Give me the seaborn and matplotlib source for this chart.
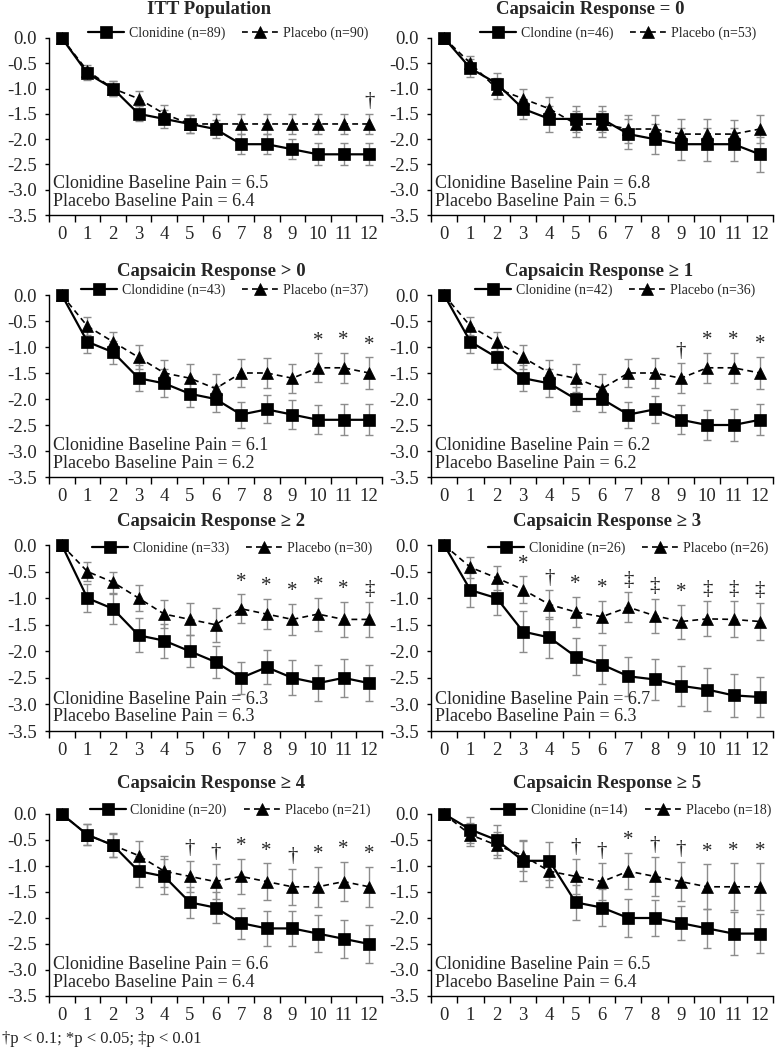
import matplotlib
matplotlib.use("Agg")
import matplotlib.pyplot as plt
import numpy as np
import seaborn as sns

# ---------------- data ----------------
weeks = list(range(13))
week_labels = [str(w) for w in weeks]
y_ticks = [0.0, -0.5, -1.0, -1.5, -2.0, -2.5, -3.0, -3.5]

titles = ["ITT Population", "Capsaicin Response = 0",
          "Capsaicin Response > 0", "Capsaicin Response \u2265 1",
          "Capsaicin Response \u2265 2", "Capsaicin Response \u2265 3",
          "Capsaicin Response \u2265 4", "Capsaicin Response \u2265 5"]

clon_labels = ["Clonidine (n=89)", "Clondine (n=46)", "Clondidine (n=43)", "Clonidine (n=42)",
               "Clonidine (n=33)", "Clonidine (n=26)", "Clonidine (n=20)", "Clonidine (n=14)"]
plac_labels = ["Placebo (n=90)", "Placebo (n=53)", "Placebo (n=37)", "Placebo (n=36)",
               "Placebo (n=30)", "Placebo (n=26)", "Placebo (n=21)", "Placebo (n=18)"]

clon_baseline = [6.5, 6.8, 6.1, 6.2, 6.3, 6.7, 6.6, 6.5]
plac_baseline = [6.4, 6.5, 6.2, 6.2, 6.3, 6.3, 6.4, 6.4]

# mean change from baseline, weeks 0..12
clon_itt = [0, -0.7, -1.0, -1.5, -1.6, -1.7, -1.8, -2.1, -2.1, -2.2, -2.3, -2.3, -2.3]
plac_itt = [0, -0.65, -1.0, -1.2, -1.5, -1.7, -1.7, -1.7, -1.7, -1.7, -1.7, -1.7, -1.7]
clon_r0 = [0, -0.6, -0.9, -1.4, -1.6, -1.6, -1.6, -1.9, -2.0, -2.1, -2.1, -2.1, -2.3]
plac_r0 = [0, -0.5, -1.0, -1.2, -1.4, -1.7, -1.7, -1.8, -1.8, -1.9, -1.9, -1.9, -1.8]
clon_gt0 = [0, -0.9, -1.1, -1.6, -1.7, -1.9, -2.0, -2.3, -2.2, -2.3, -2.4, -2.4, -2.4]
plac_gt0 = [0, -0.6, -0.9, -1.2, -1.5, -1.6, -1.8, -1.5, -1.5, -1.6, -1.4, -1.4, -1.5]
clon_ge1 = [0, -0.9, -1.2, -1.6, -1.7, -2.0, -2.0, -2.3, -2.2, -2.4, -2.5, -2.5, -2.4]
plac_ge1 = [0, -0.6, -0.9, -1.2, -1.5, -1.6, -1.8, -1.5, -1.5, -1.6, -1.4, -1.4, -1.5]
clon_ge2 = [0, -1.0, -1.2, -1.7, -1.8, -2.0, -2.2, -2.5, -2.3, -2.5, -2.6, -2.5, -2.6]
plac_ge2 = [0, -0.5, -0.7, -1.0, -1.3, -1.4, -1.5, -1.2, -1.3, -1.4, -1.3, -1.4, -1.4]
clon_ge3 = [0, -0.85, -1.0, -1.63, -1.74, -2.1, -2.25, -2.47, -2.53, -2.65, -2.72, -2.83, -2.86]
plac_ge3 = [0, -0.42, -0.62, -0.84, -1.12, -1.26, -1.35, -1.17, -1.33, -1.44, -1.39, -1.4, -1.44]
clon_ge4 = [0, -0.4, -0.6, -1.1, -1.2, -1.7, -1.8, -2.1, -2.2, -2.2, -2.3, -2.4, -2.5]
plac_ge4 = [0, -0.4, -0.6, -0.8, -1.1, -1.2, -1.3, -1.2, -1.3, -1.4, -1.4, -1.3, -1.4]
clon_ge5 = [0, -0.3, -0.5, -0.9, -0.9, -1.7, -1.8, -2.0, -2.0, -2.1, -2.2, -2.3, -2.3]
plac_ge5 = [0, -0.4, -0.6, -0.8, -1.1, -1.2, -1.3, -1.1, -1.2, -1.3, -1.4, -1.4, -1.4]

# error bar half-widths, weeks 1..12
clon_err_itt = [0.13, 0.15, 0.15, 0.17, 0.17, 0.17, 0.2, 0.2, 0.2, 0.22, 0.22, 0.22]
plac_err_itt = [0.12, 0.15, 0.15, 0.17, 0.18, 0.2, 0.2, 0.2, 0.2, 0.2, 0.2, 0.2]
clon_err_r0 = [0.18, 0.2, 0.2, 0.25, 0.25, 0.25, 0.3, 0.3, 0.32, 0.33, 0.33, 0.35]
plac_err_r0 = [0.15, 0.2, 0.2, 0.23, 0.25, 0.25, 0.27, 0.28, 0.3, 0.3, 0.28, 0.28]
clon_err_gt0 = [0.22, 0.22, 0.25, 0.27, 0.25, 0.25, 0.25, 0.27, 0.28, 0.28, 0.3, 0.3]
plac_err_gt0 = [0.17, 0.18, 0.23, 0.25, 0.27, 0.28, 0.27, 0.28, 0.28, 0.28, 0.29, 0.3]
clon_err_ge1 = [0.22, 0.22, 0.25, 0.27, 0.23, 0.25, 0.25, 0.26, 0.28, 0.29, 0.3, 0.3]
plac_err_ge1 = [0.17, 0.18, 0.23, 0.25, 0.27, 0.28, 0.27, 0.29, 0.29, 0.29, 0.29, 0.31]
clon_err_ge2 = [0.27, 0.28, 0.32, 0.32, 0.3, 0.3, 0.3, 0.32, 0.33, 0.34, 0.36, 0.34]
plac_err_ge2 = [0.18, 0.2, 0.24, 0.27, 0.3, 0.32, 0.27, 0.29, 0.29, 0.31, 0.33, 0.33]
clon_err_ge3 = [0.32, 0.32, 0.38, 0.38, 0.35, 0.37, 0.37, 0.38, 0.38, 0.4, 0.41, 0.38]
plac_err_ge3 = [0.2, 0.22, 0.25, 0.27, 0.28, 0.3, 0.28, 0.32, 0.32, 0.33, 0.34, 0.35]
clon_err_ge4 = [0.2, 0.23, 0.3, 0.33, 0.3, 0.3, 0.3, 0.33, 0.33, 0.35, 0.36, 0.36]
plac_err_ge4 = [0.2, 0.22, 0.28, 0.3, 0.3, 0.33, 0.34, 0.35, 0.35, 0.38, 0.38, 0.39]
clon_err_ge5 = [0.25, 0.28, 0.38, 0.37, 0.33, 0.35, 0.36, 0.34, 0.33, 0.37, 0.42, 0.38]
plac_err_ge5 = [0.22, 0.25, 0.3, 0.3, 0.33, 0.35, 0.35, 0.37, 0.38, 0.43, 0.45, 0.45]

# significance markers, weeks 1..12
sig_itt = ["", "", "", "", "", "", "", "", "", "", "", "\u2020"]
sig_r0 = [""] * 12
sig_gt0 = ["", "", "", "", "", "", "", "", "", "*", "*", "*"]
sig_ge1 = ["", "", "", "", "", "", "", "", "\u2020", "*", "*", "*"]
sig_ge2 = ["", "", "", "", "", "", "*", "*", "*", "*", "*", "\u2021"]
sig_ge3 = ["", "", "*", "\u2020", "*", "*", "\u2021", "\u2021", "*", "\u2021", "\u2021", "\u2021"]
sig_ge4 = ["", "", "", "", "\u2020", "\u2020", "*", "*", "\u2020", "*", "*", "*"]
sig_ge5 = ["", "", "", "", "\u2020", "\u2020", "*", "\u2020", "\u2020", "*", "*", "*"]

footnote = "\u2020p < 0.1; *p < 0.05; \u2021p < 0.01"

clon_all = [clon_itt, clon_r0, clon_gt0, clon_ge1, clon_ge2, clon_ge3, clon_ge4, clon_ge5]
plac_all = [plac_itt, plac_r0, plac_gt0, plac_ge1, plac_ge2, plac_ge3, plac_ge4, plac_ge5]
clon_errs = [clon_err_itt, clon_err_r0, clon_err_gt0, clon_err_ge1, clon_err_ge2, clon_err_ge3, clon_err_ge4, clon_err_ge5]
plac_errs = [plac_err_itt, plac_err_r0, plac_err_gt0, plac_err_ge1, plac_err_ge2, plac_err_ge3, plac_err_ge4, plac_err_ge5]
sigs = [sig_itt, sig_r0, sig_gt0, sig_ge1, sig_ge2, sig_ge3, sig_ge4, sig_ge5]

# ---------------- style ----------------
sns.set_style("ticks")
plt.rcParams["font.family"] = ["Liberation Serif", "DejaVu Serif"]
plt.rcParams["axes.unicode_minus"] = False

W, H = 776, 1048
fig = plt.figure(figsize=(W / 100, H / 100), dpi=100)

cols = [(49, 382), (431, 773)]
rows = [(38, 215), (295, 477), (545, 731), (814, 996)]
title_y = [10, 271, 522, 783]
title_x = [209, 590, 211, 599, 211, 607, 211, 607]
legend_y = [33, 290, 548, 810]
legend_right = [368, 756, 368, 755, 372, 768, 370, 771]

for i in range(8):
    r, c = divmod(i, 2)
    x0, x1 = cols[c]
    y0, y1 = rows[r]
    ax = fig.add_axes([x0 / W, 1 - y1 / H, (x1 - x0) / W, (y1 - y0) / H])

    ax.errorbar(weeks[1:], plac_all[i][1:], yerr=plac_errs[i], fmt="none",
                ecolor="#8c8c8c", elinewidth=1, capsize=3, capthick=1, zorder=1)
    ax.errorbar(weeks[1:], clon_all[i][1:], yerr=clon_errs[i], fmt="none",
                ecolor="#8c8c8c", elinewidth=1, capsize=3, capthick=1, zorder=1)

    sns.lineplot(x=weeks, y=clon_all[i], ax=ax, color="black", marker="s",
                 markersize=8, markeredgecolor="black", markeredgewidth=0.5,
                 linewidth=1.6, label=clon_labels[i], clip_on=False, zorder=3,
                 errorbar=None)
    sns.lineplot(x=weeks, y=plac_all[i], ax=ax, color="black", marker="^",
                 markersize=8, markeredgecolor="black", markeredgewidth=0.5,
                 linewidth=1.2, linestyle=(0, (3.5, 2.5)), label=plac_labels[i],
                 clip_on=False, zorder=3, errorbar=None)

    for w, s in zip(weeks[1:], sigs[i]):
        if s:
            top = plac_all[i][w] + plac_errs[i][w - 1]
            ax.text(w, top + 0.05, s, ha="center", va="bottom", fontsize=15)

    ax.set_xlim(-0.5, 12.5)
    ax.set_ylim(-3.5, 0)
    ax.set_xticks(weeks)
    ax.set_xticklabels(week_labels)
    ax.set_xticks(np.arange(-0.5, 13, 1), minor=True)
    ax.set_yticks(y_ticks)
    ax.set_yticklabels([f"{v:.1f}" for v in y_ticks])
    ax.tick_params(axis="x", which="major", length=0, pad=8, labelsize=13.5)
    ax.tick_params(axis="x", which="minor", length=5, width=1, direction="out", color="black")
    ax.tick_params(axis="y", length=3, width=1, direction="out", pad=6, labelsize=13.5, color="black")
    ax.set_xlabel("")
    ax.set_ylabel("")
    for sp in ["top", "right"]:
        ax.spines[sp].set_visible(False)
    for sp in ["left", "bottom"]:
        ax.spines[sp].set_color("black")
        ax.spines[sp].set_linewidth(1)

    ax.text(0.012, 0.03,
            f"Clonidine Baseline Pain = {clon_baseline[i]}\nPlacebo Baseline Pain = {plac_baseline[i]}",
            transform=ax.transAxes, ha="left", va="bottom", fontsize=13, linespacing=1.05)

    ax.legend(loc="center right", bbox_to_anchor=(legend_right[i] / W, 1 - legend_y[r] / H),
              bbox_transform=fig.transFigure, ncol=2, frameon=False, fontsize=10,
              handlelength=2.6, handletextpad=0.35, columnspacing=1.2,
              borderpad=0, borderaxespad=0, numpoints=1)

    fig.text(title_x[i] / W, 1 - title_y[r] / H, titles[i], ha="center", va="center",
             fontsize=13.5, fontweight="bold")

fig.text(2 / W, 1 - 1039 / H, footnote, ha="left", va="center", fontsize=12)

fig.savefig("out.png", dpi=100)
